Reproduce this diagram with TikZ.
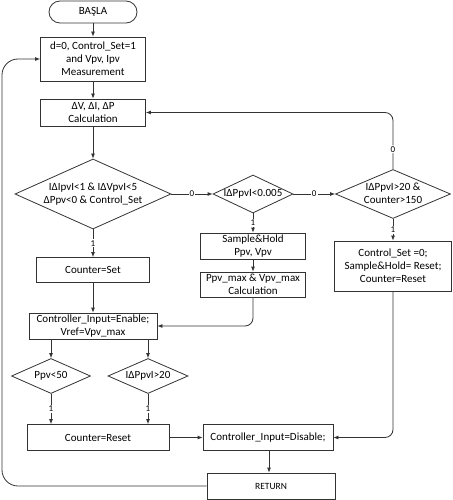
\documentclass[tikz,border=0pt]{standalone}
\usepackage{fontspec}
\setmainfont{Carlito}
\usetikzlibrary{shapes.geometric,arrows.meta}

\newcommand{\dtext}[1]{\makebox[0pt]{\begin{tabular}{@{}c@{}}#1\end{tabular}}}

\begin{document}
\begin{tikzpicture}[x = 1pt, y = -1pt,
	line/.style = {draw = black!80, line width = 0.8pt},
	arr/.style = {line, -{Latex[length = 5pt, width = 4pt]}},
	box/.style = {line, rectangle, align = center, inner sep = 1pt, font = \fontsize{11}{13}\selectfont},
	test/.style = {line, diamond, aspect = 1, inner sep = 0pt, font = \fontsize{11}{13}\selectfont},
	lbl/.style = {fill = white, inner sep = 1pt, font = \fontsize{9}{10}\selectfont}]

\useasboundingbox (0,0) rectangle (452,500);

\node[box, rounded corners = 11pt, minimum width = 88pt, minimum height = 22pt] (start) at (93, 12) {BAŞLA};
\node[box, minimum width = 105pt, minimum height = 44pt] (init) at (93, 59) {d=0, Control\_Set=1\\and Vpv, Ipv\\Measurement};
\node[box, minimum width = 105pt, minimum height = 27pt] (calc) at (93, 112.5) {ΔV, ΔI, ΔP\\Calculation};
\node[test, minimum width = 156pt, minimum height = 70pt] (c1) at (93, 194) {\dtext{IΔIpvI<1 \& IΔVpvI<5\\ΔPpv<0 \& Control\_Set}};
\node[box, minimum width = 113pt, minimum height = 25pt] (cntset) at (93, 270) {Counter=Set};
\node[box, minimum width = 128pt, minimum height = 26pt] (enable) at (93, 326) {Controller\_Input=Enable;\\Vref=Vpv\_max};
\node[test, minimum width = 79pt, minimum height = 35pt] (ppv) at (51, 376) {\dtext{Ppv<50}};
\node[test, minimum width = 80pt, minimum height = 35pt] (dpp) at (148, 376) {\dtext{IΔPpvI>20}};
\node[box, minimum width = 142pt, minimum height = 26pt] (reset) at (98, 437.5) {Counter=Reset};
\node[box, minimum width = 130pt, minimum height = 26pt] (disable) at (268, 437.5) {Controller\_Input=Disable;};
\node[box, minimum width = 128pt, minimum height = 26pt, font = \fontsize{9.5}{11}\selectfont] (ret) at (271, 486) {RETURN};

\node[test, minimum width = 80pt, minimum height = 38pt] (c2) at (253, 194) {\dtext{IΔPpvI<0.005}};
\node[box, minimum width = 105pt, minimum height = 26pt] (sample) at (253, 246) {Sample\&Hold\\Ppv, Vpv};
\node[box, minimum width = 105pt, minimum height = 25pt] (pmax) at (253, 284.5) {Ppv\_max \& Vpv\_max\\Calculation};

\node[test, minimum width = 115pt, minimum height = 49pt] (c3) at (393, 194) {\dtext{IΔPpvI>20 \&\\Counter>150}};
\node[box, minimum width = 117pt, minimum height = 50pt] (cset) at (393, 266) {Control\_Set =0;\\Sample\&Hold= Reset;\\Counter=Reset};

\draw[arr] (start) -- (init);
\draw[arr] (init) -- (calc);
\draw[arr] (calc) -- (c1);
\draw[arr] (c1) -- node[lbl] {1} (cntset);
\draw[arr] (cntset) -- (enable);

\foreach \d in {ppv, dpp} {
	\draw[arr] (\d.north |- enable.south) -- (\d);
	\draw[arr] (\d) -- node[lbl] {1} (\d.south |- reset.north);
}

\draw[arr] (reset) -- (disable);
\draw[arr] (disable.south -| 269, 0) -- (ret.north -| 269, 0);

\draw[arr] (c1) -- node[lbl] {0} (c2);
\draw[arr] (c2) -- node[lbl] {0} (c3);
\draw[arr] (c2) -- node[lbl] {1} (sample);
\draw[arr] (sample) -- (pmax);
\draw[arr, rounded corners = 8pt] (pmax.south) -- (pmax.south |- enable.east) -- (enable.east);

\draw[arr] (c3) -- node[lbl] {1} (cset);
\draw[arr, rounded corners = 8pt] (cset.south) -- (cset.south |- disable.east) -- (disable.east);
\draw[arr, rounded corners = 8pt] (c3.north) -- node[lbl, pos = 0.35] {0} (c3.north |- calc.east) -- (calc.east);

\coordinate (back) at (2, 0);
\draw[arr, rounded corners = 16pt] (ret.west) -- (ret.west -| back) -- (init.west -| back) -- (init.west);

\end{tikzpicture}
\end{document}
